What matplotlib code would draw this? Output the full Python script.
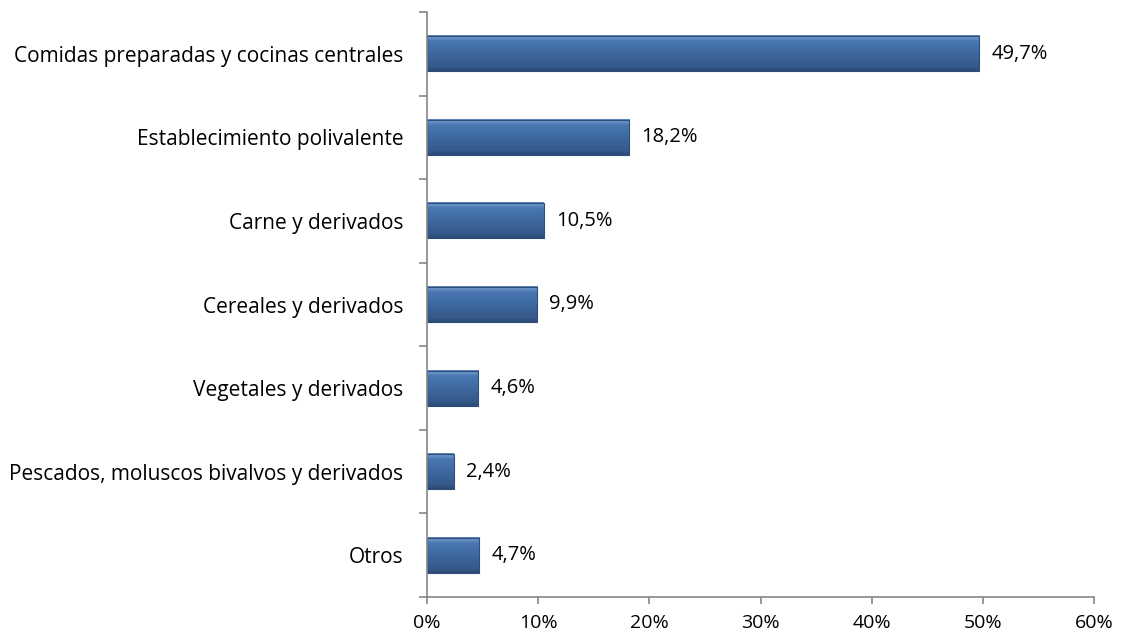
import matplotlib
matplotlib.use("Agg")
import matplotlib.pyplot as plt
import numpy as np
from matplotlib.colors import LinearSegmentedColormap

categories = ["Comidas preparadas y cocinas centrales",
              "Establecimiento polivalente",
              "Carne y derivados",
              "Cereales y derivados",
              "Vegetales y derivados",
              "Pescados, moluscos bivalvos y derivados",
              "Otros"]
values = [49.7, 18.2, 10.5, 9.9, 4.6, 2.4, 4.7]
value_labels = ["49,7%", "18,2%", "10,5%", "9,9%", "4,6%", "2,4%", "4,7%"]
xticks = [0, 10, 20, 30, 40, 50, 60]
xtick_labels = ["0%", "10%", "20%", "30%", "40%", "50%", "60%"]

plt.rcParams['font.family'] = ['Open Sans', 'DejaVu Sans']

fig = plt.figure(figsize=(11.21, 6.34), dpi=100)
ax = fig.add_axes([427/1121, 1-597/634, (1094-427)/1121, (597-12)/634])

n = len(categories)
y = np.arange(n)[::-1]
h = 0.42

cmap = LinearSegmentedColormap.from_list(
    "bevel", [(0.0, "#2B4A75"), (0.12, "#35598A"), (0.5, "#3E69A0"),
              (0.85, "#4A78B2"), (0.93, "#6C95C8"), (1.0, "#5C86BC")])
grad = np.linspace(0, 1, 64).reshape(-1, 1)

bars = ax.barh(y, values, height=h, color="none", edgecolor="#2E4F7A",
               linewidth=0.8, zorder=3)
for b in bars:
    x0, y0 = b.get_x(), b.get_y()
    w, hh = b.get_width(), b.get_height()
    ax.imshow(grad, cmap=cmap, origin="lower", aspect="auto",
              extent=[x0, x0 + w, y0, y0 + hh], zorder=2, interpolation="bilinear")

for yi, v, lab in zip(y, values, value_labels):
    ax.text(v + 1.1, yi, lab, va="center", ha="left", fontsize=14.5, color="black")

ax.set_xlim(0, 60)
ax.set_ylim(-0.5, n - 0.5)
ax.set_xticks(xticks)
ax.set_xticklabels(xtick_labels, fontsize=14)
ax.set_yticks(y)
ax.set_yticklabels(categories, fontsize=15)
ax.tick_params(axis='y', length=0, pad=17)
ax.set_yticks(np.arange(-0.5, n, 1.0), minor=True)
ax.tick_params(axis='y', which='minor', length=6, color="#868686", width=1.2)
ax.tick_params(axis='x', length=5, color="#868686", width=1.2, pad=7)

for s in ["top", "right"]:
    ax.spines[s].set_visible(False)
for s in ["left", "bottom"]:
    ax.spines[s].set_color("#868686")
    ax.spines[s].set_linewidth(1.2)
    ax.spines[s].set_zorder(4)

fig.savefig("out.png", dpi=100)
